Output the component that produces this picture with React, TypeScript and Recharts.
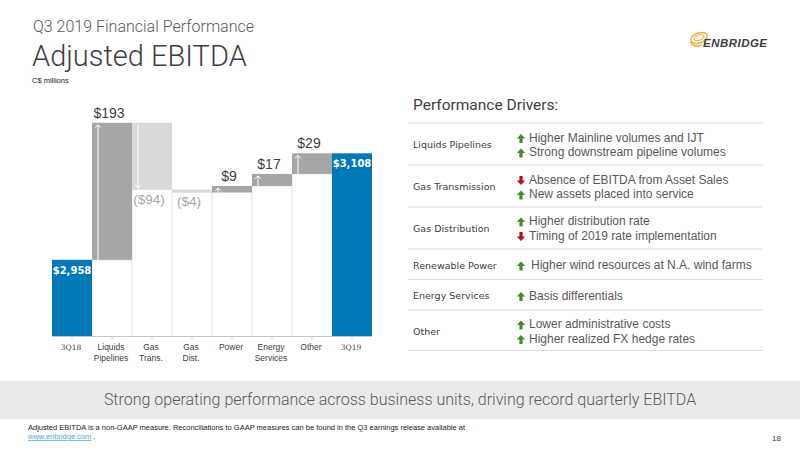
import { Bar, BarChart, Cell, LabelList, XAxis, YAxis } from "recharts";

const categories = ["3Q18", "Liquids\nPipelines", "Gas\nTrans.", "Gas\nDist.", "Power", "Energy\nServices", "Other", "3Q19"];
const supports = [0, 2958, 3057, 3053, 3053, 3062, 3079, 0];
const amounts = [2958, 193, 94, 4, 9, 17, 29, 3108];
const kinds = ["total", "up", "down", "down", "up", "up", "up", "total"];
const labels = ["$2,958", "$193", "($94)", "($4)", "$9", "$17", "$29", "$3,108"];

const driverGroups = ["Liquids Pipelines", "Gas Transmission", "Gas Distribution", "Renewable Power", "Energy Services", "Other"];
const driverTexts = [
  ["Higher Mainline volumes and IJT", "Strong downstream pipeline volumes"],
  ["Absence of EBITDA from Asset Sales", "New assets placed into service"],
  ["Higher distribution rate", "Timing of 2019 rate implementation"],
  ["Higher wind resources at N.A. wind farms"],
  ["Basis differentials"],
  ["Lower administrative costs", "Higher realized FX hedge rates"],
];
const driverDirs = [["up", "up"], ["down", "up"], ["up", "down"], ["up"], ["up"], ["up", "up"]];

const chartData = categories.map((category, i) => ({
  category,
  support: supports[i],
  amount: amounts[i],
  kind: kinds[i],
  label: labels[i],
}));

const BLUE = "#0079b8";
const GREY = "#a6a6a6";
const PALE = "#d9d9d9";
const TEXT = "#595959";
const SANS = "'Liberation Sans', Arial, sans-serif";
const HEAD = "Roboto, 'Liberation Sans', sans-serif";
const WIDE = "'DejaVu Sans', sans-serif";

const rowLines = [123, 165, 207, 249, 279.5, 310, 350.5];
const rowTextY = [[137.5, 152], [179.5, 194], [221, 235.5], [265], [295.5], [324, 338.5]];

function fillFor(kind: string) {
  if (kind === "total") return BLUE;
  return kind === "up" ? GREY : PALE;
}

function AmountBar(props: any) {
  const { x, y, width, height, payload } = props;
  const kind = payload.kind;
  const big = height > 5;
  const ax = x + (kind === "total" ? 0 : Math.min(7, width * 0.15));
  return (
    <g>
      <rect x={x} y={y} width={width} height={height} fill={fillFor(kind)} />
      {kind !== "total" && big && (
        <g stroke="#fff" strokeWidth={1} fill="none">
          <line x1={ax} x2={ax} y1={y + 2} y2={y + height} />
          {kind === "up" ? (
            <path d={`M${ax - 3} ${y + 5}L${ax} ${y + 2}L${ax + 3} ${y + 5}`} />
          ) : (
            <path d={`M${ax - 3} ${y + height - 5}L${ax} ${y + height - 2}L${ax + 3} ${y + height - 5}`} />
          )}
        </g>
      )}
    </g>
  );
}

function AmountLabel(props: any) {
  const { x, y, width, height, index } = props;
  const kind = kinds[index];
  const cx = x + width / 2;
  if (kind === "total") {
    return (
      <text x={cx} y={y + 14} textAnchor="middle" fontFamily={WIDE} fontWeight={700} fontSize={10} fill="#fff">
        {labels[index]}
      </text>
    );
  }
  if (kind === "down") {
    return (
      <text x={cx - 3} y={y + height + 14} textAnchor="middle" fontFamily={SANS} fontSize={13.5} fill={GREY} style={{ transform: "none" }}>
        {labels[index]}
      </text>
    );
  }
  return (
    <text x={cx - 3} y={y - 5} textAnchor="middle" fontFamily={SANS} fontSize={14} fill="#404040">
      {labels[index]}
    </text>
  );
}

function CategoryTick(props: any) {
  const { x, y, payload } = props;
  const lines = String(payload.value).split("\n");
  const isPeriod = /^3Q/.test(lines[0]);
  return (
    <text x={x - 1} y={y + 3} textAnchor="middle" fontFamily={isPeriod ? "'DejaVu Serif', serif" : SANS} fontSize={isPeriod ? 7.5 : 8.5} fill="#404040">
      {lines.map((line, i) => (
        <tspan key={line} x={x - 1} dy={i === 0 ? 5 : 11.3}>
          {line}
        </tspan>
      ))}
    </text>
  );
}

function DriverArrow({ x, y, dir }: { x: number; y: number; dir: string }) {
  const color = dir === "up" ? "#3f8f22" : "#b3121a";
  const d = dir === "up" ? "M0 -4.5L4.2 0L1.6 0L1.6 4.5L-1.6 4.5L-1.6 0L-4.2 0Z" : "M0 4.5L4.2 0L1.6 0L1.6 -4.5L-1.6 -4.5L-1.6 0L-4.2 0Z";
  return <path transform={`translate(${x} ${y})`} d={d} fill={color} />;
}

function Logo() {
  return (
    <g>
      <g fill="none" stroke="#f0b23c">
        <ellipse cx={699} cy={38} rx={8.5} ry={5} strokeWidth={1.4} transform="rotate(-18 699 38)" />
        <ellipse cx={699} cy={37.5} rx={5} ry={2.6} strokeWidth={1} transform="rotate(-18 699 37.5)" />
        <path d="M691 41C691 46 697 47 702 45" strokeWidth={1.8} />
      </g>
      <text x={703} y={47} fontFamily={SANS} fontWeight={700} fontStyle="italic" fontSize={11.5} fill="#404040" textLength={64}>
        ENBRIDGE
      </text>
    </g>
  );
}

export default function App() {
  return (
    <div style={{ position: "absolute", left: 0, top: 0, width: 800, height: 450, background: "#fff", overflow: "hidden" }}>
      <svg width={800} height={450} style={{ position: "absolute", left: 0, top: 0 }}>
        <text x={33} y={32} fontFamily={HEAD} fontWeight={300} fontSize={16} fill={TEXT}>Q3 2019 Financial Performance</text>
        <text x={32} y={66} fontFamily={HEAD} fontWeight={300} fontSize={29} fill="#404040">Adjusted EBITDA</text>
        <text x={32} y={83} fontFamily={SANS} fontSize={7.5} fill="#222">C$ millions</text>
        <Logo />

        <text x={413} y={110} fontFamily={HEAD} fontSize={15.5} fill="#404040">Performance Drivers:</text>
        {rowLines.map((y) => (
          <line key={y} x1={408} x2={763} y1={y} y2={y} stroke="#dcdcdc" />
        ))}
        {driverGroups.map((group, i) => {
          const ys = rowTextY[i];
          const mid = (ys[0] + ys[ys.length - 1]) / 2;
          return (
            <g key={group}>
              <text x={413} y={mid + 3.5} fontFamily={WIDE} fontWeight={500} fontSize={9.5} fill="#404040">{group}</text>
              {driverTexts[i].map((line, j) => (
                <g key={line}>
                  <DriverArrow x={521} y={ys[j] + 1} dir={driverDirs[i][j]} />
                  <text x={i === 3 ? 531 : 529} y={ys[j] + 4} fontFamily={SANS} fontSize={12} fill={TEXT}>{line}</text>
                </g>
              ))}
            </g>
          );
        })}

        <rect x={0} y={381} width={800} height={38} fill="#e9ebea" />
        <text x={400} y={405} textAnchor="middle" fontFamily={HEAD} fontWeight={300} fontSize={16} fill={TEXT}>
          Strong operating performance across business units, driving record quarterly EBITDA
        </text>
        <text x={28} y={430} fontFamily={SANS} fontSize={7.5} fill="#222">
          Adjusted EBITDA is a non-GAAP measure. Reconciliations to GAAP measures can be found in the Q3 earnings release available at
        </text>
        <text x={28} y={439} fontFamily={SANS} fontSize={7.5} fill="#4aa8d8" textDecoration="underline">www.enbridge.com</text>
        <text x={93} y={439} fontFamily={SANS} fontSize={7.5} fill="#222">.</text>
        <text x={772} y={441} fontFamily={SANS} fontSize={8} fill="#404040">18</text>
      </svg>

      <div style={{ position: "absolute", left: 0, top: 60 }}>
        <BarChart
          width={400}
          height={310}
          data={chartData}
          barCategoryGap={0}
          margin={{ top: 28, right: 28, bottom: 3.5, left: 52 }}
        >
          <XAxis
            dataKey="category"
            interval={0}
            height={30}
            tick={<CategoryTick />}
            tickSize={3}
            axisLine={{ stroke: "#c9c9c9" }}
            tickLine={{ stroke: "#c9c9c9" }}
          />
          <YAxis hide domain={[2850, 3200]} allowDataOverflow />
          <Bar dataKey="support" stackId="bridge" fill="#fff" stroke="#e6e6e6" strokeWidth={1} isAnimationActive={false} />
          <Bar dataKey="amount" stackId="bridge" shape={<AmountBar />} isAnimationActive={false}>
            {chartData.map((row) => (
              <Cell key={row.category} fill={fillFor(row.kind)} />
            ))}
            <LabelList dataKey="label" content={<AmountLabel />} />
          </Bar>
        </BarChart>
      </div>
    </div>
  );
}
